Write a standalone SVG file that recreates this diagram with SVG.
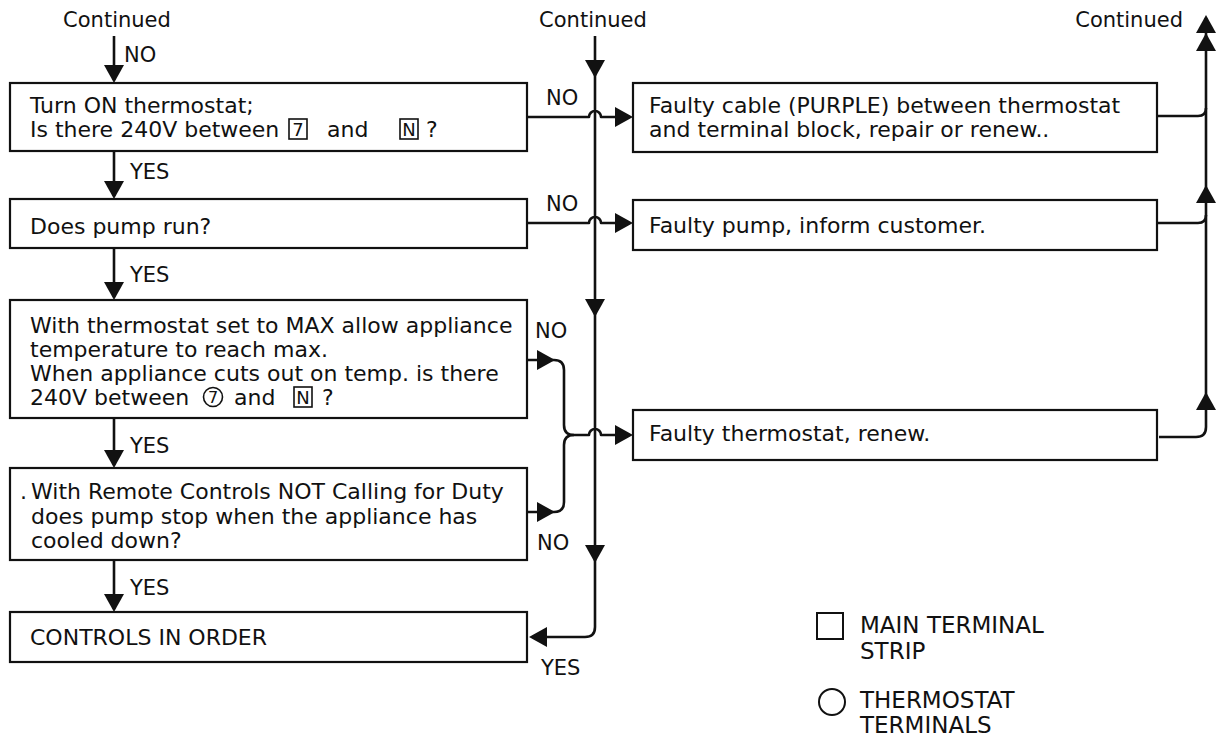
<svg xmlns="http://www.w3.org/2000/svg" width="1220" height="740" viewBox="0 0 1220 740">
<style>
.bx{fill:#fff;stroke:#111;stroke-width:2.2}
.t{font-family:"DejaVu Sans","Liberation Sans",sans-serif;font-size:22px;fill:#111}
.lb{font-family:"DejaVu Sans","Liberation Sans",sans-serif;font-size:21px;fill:#111}
.cn{fill:none;stroke:#111;stroke-width:2.6;stroke-linejoin:round}
.gl{fill:none;stroke:#111;stroke-width:1.6}
.gt{font-family:"DejaVu Sans","Liberation Sans",sans-serif;font-size:18px;fill:#111;text-anchor:middle}
</style>
<defs>
<path id="ah" d="M0,0 L-18,-10 L-18,10 Z" fill="#111"/>
</defs>
<rect width="1220" height="740" fill="#fff"/>

<g id="labels-top">
<text class="lb" x="117" y="27" text-anchor="middle">Continued</text>
<text class="lb" x="593" y="27" text-anchor="middle">Continued</text>
<text class="lb" x="1183" y="27" text-anchor="end">Continued</text>
</g>

<g id="connectors">
<path class="cn" d="M114,36 V80"/><use href="#ah" transform="translate(114,83) rotate(90)"/>
<path class="cn" d="M114,151 V196"/><use href="#ah" transform="translate(114,199) rotate(90)"/>
<path class="cn" d="M114,248 V297"/><use href="#ah" transform="translate(114,300) rotate(90)"/>
<path class="cn" d="M114,418 V465"/><use href="#ah" transform="translate(114,468) rotate(90)"/>
<path class="cn" d="M114,560 V609"/><use href="#ah" transform="translate(114,612) rotate(90)"/>

<path class="cn" d="M595,36 V627 Q595,637 585,637 H532"/>
<use href="#ah" transform="translate(595,78) rotate(90)"/>
<use href="#ah" transform="translate(595,317) rotate(90)"/>
<use href="#ah" transform="translate(595,563) rotate(90)"/>
<use href="#ah" transform="translate(529,637) rotate(180)"/>

<path class="cn" d="M527,117 H589 A6,6 0 0 1 601,117 H630"/><use href="#ah" transform="translate(633,117)"/>
<path class="cn" d="M527,223 H589 A6,6 0 0 1 601,223 H630"/><use href="#ah" transform="translate(633,223)"/>

<path class="cn" d="M527,360 H554 Q564,360 564,370 V425 Q564,435 574,435"/><use href="#ah" transform="translate(555,360)"/>
<path class="cn" d="M527,512 H554 Q564,512 564,502 V445 Q564,435 574,435"/><use href="#ah" transform="translate(555,512)"/>
<path class="cn" d="M574,435 H589 A6,6 0 0 1 601,435 H630"/><use href="#ah" transform="translate(633,435)"/>

<path class="cn" d="M1159,437 H1196 Q1206,437 1206,427 V18"/>
<path class="cn" d="M1157,116 H1198 Q1206,116 1206,108"/>
<path class="cn" d="M1157,223 H1198 Q1206,223 1206,215"/>
<use href="#ah" transform="translate(1206,15) rotate(-90)"/>
<use href="#ah" transform="translate(1206,33) rotate(-90)"/>
<use href="#ah" transform="translate(1206,185) rotate(-90)"/>
<use href="#ah" transform="translate(1206,392) rotate(-90)"/>

<text class="lb" x="124" y="62">NO</text>
<text class="lb" x="130" y="179">YES</text>
<text class="lb" x="130" y="282">YES</text>
<text class="lb" x="130" y="453">YES</text>
<text class="lb" x="130" y="595">YES</text>
<text class="lb" x="546" y="105">NO</text>
<text class="lb" x="546" y="211">NO</text>
<text class="lb" x="535" y="338">NO</text>
<text class="lb" x="537" y="550">NO</text>
<text class="lb" x="541" y="675">YES</text>
</g>

<g id="n1">
<rect class="bx" x="10" y="83" width="517" height="68"/>
<text class="t" x="30" y="113">Turn ON thermostat;</text>
<text class="t" x="30" y="137">Is there 240V between</text>
<rect class="gl" x="289" y="119" width="18" height="20"/>
<text class="gt" x="298" y="136">7</text>
<text class="t" x="327" y="137">and</text>
<rect class="gl" x="400" y="119" width="18" height="20"/>
<text class="gt" x="409" y="136">N</text>
<text class="t" x="426" y="137">?</text>
</g>

<g id="n2">
<rect class="bx" x="10" y="199" width="517" height="49"/>
<text class="t" x="30" y="234">Does pump run?</text>
</g>

<g id="n3">
<rect class="bx" x="10" y="300" width="517" height="118"/>
<text class="t" x="30" y="333">With thermostat set to MAX allow appliance</text>
<text class="t" x="30" y="357">temperature to reach max.</text>
<text class="t" x="30" y="381">When appliance cuts out on temp. is there</text>
<text class="t" x="30" y="405">240V between</text>
<circle class="gl" cx="213" cy="397" r="9.5"/>
<text class="gt" x="213" y="403" style="font-size:16px">7</text>
<text class="t" x="234" y="405">and</text>
<rect class="gl" x="294" y="387" width="18" height="20"/>
<text class="gt" x="303" y="404">N</text>
<text class="t" x="322" y="405">?</text>
</g>

<g id="n4">
<rect class="bx" x="10" y="468" width="517" height="92"/>
<text class="t" y="499"><tspan x="20">.</tspan><tspan x="31">With Remote Controls NOT Calling for Duty</tspan></text>
<text class="t" x="31" y="524">does pump stop when the appliance has</text>
<text class="t" x="31" y="548">cooled down?</text>
</g>

<g id="n5">
<rect class="bx" x="10" y="612" width="517" height="50"/>
<text class="t" x="30" y="645">CONTROLS IN ORDER</text>
</g>

<g id="r1">
<rect class="bx" x="633" y="83" width="524" height="69"/>
<text class="t" x="649" y="113">Faulty cable (PURPLE) between thermostat</text>
<text class="t" x="649" y="137">and terminal block, repair or renew..</text>
</g>

<g id="r2">
<rect class="bx" x="633" y="200" width="524" height="50"/>
<text class="t" x="649" y="233">Faulty pump, inform customer.</text>
</g>

<g id="r3">
<rect class="bx" x="633" y="410" width="524" height="50"/>
<text class="t" x="649" y="441">Faulty thermostat, renew.</text>
</g>

<g id="legend">
<rect class="bx" x="817" y="613" width="26" height="26" style="stroke-width:2"/>
<text class="t" x="860" y="633" style="font-size:23px">MAIN TERMINAL</text>
<text class="t" x="860" y="659" style="font-size:23px">STRIP</text>
<circle class="bx" cx="832" cy="702" r="13" style="stroke-width:2"/>
<text class="t" x="860" y="708" style="font-size:23px">THERMOSTAT</text>
<text class="t" x="860" y="733" style="font-size:23px">TERMINALS</text>
</g>
</svg>
